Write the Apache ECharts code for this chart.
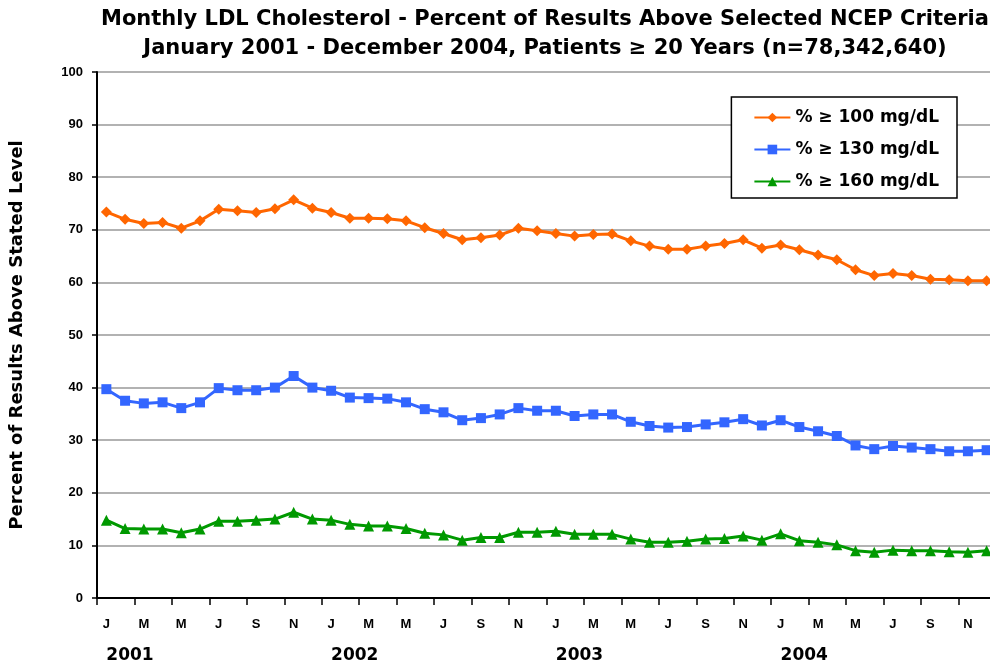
<!DOCTYPE html>
<html>
<head>
<meta charset="utf-8">
<script src="https://cdn.jsdelivr.net/npm/echarts@6/dist/echarts.min.js"></script>
<style>
  html, body { margin: 0; padding: 0; background: #fff; }
  #main { width: 990px; height: 669px; }
</style>
</head>
<body>
<div id="main"></div>
<script>
// NOTE - Data

const years = ['2001', '2002', '2003', '2004'];
const monthLetters = ['J', 'F', 'M', 'A', 'M', 'J', 'J', 'A', 'S', 'O', 'N', 'D'];

// % of results >= 100 mg/dL
const over100 = [
  73.4, 72.0, 71.2, 71.4, 70.3, 71.7, 73.9, 73.6, 73.3, 74.0, 75.7, 74.1,
  73.3, 72.2, 72.2, 72.1, 71.7, 70.4, 69.3, 68.1, 68.5, 69.0, 70.3, 69.8,
  69.3, 68.8, 69.1, 69.2, 67.9, 66.9, 66.3, 66.3, 66.9, 67.4, 68.1, 66.5,
  67.1, 66.2, 65.2, 64.3, 62.4, 61.3, 61.7, 61.3, 60.6, 60.5, 60.3, 60.3
];

// % of results >= 130 mg/dL
const over130 = [
  39.7, 37.5, 37.0, 37.2, 36.1, 37.2, 39.9, 39.5, 39.5, 40.0, 42.2, 40.0,
  39.4, 38.1, 38.0, 37.9, 37.2, 35.9, 35.3, 33.8, 34.2, 34.9, 36.1, 35.6,
  35.6, 34.6, 34.9, 34.9, 33.5, 32.7, 32.4, 32.5, 33.0, 33.4, 34.0, 32.8,
  33.8, 32.5, 31.7, 30.8, 29.0, 28.3, 28.9, 28.6, 28.3, 27.9, 27.9, 28.1
];

// % of results >= 160 mg/dL
const over160 = [
  14.8, 13.2, 13.1, 13.1, 12.4, 13.1, 14.6, 14.6, 14.8, 15.0, 16.3, 15.0,
  14.8, 14.0, 13.7, 13.7, 13.2, 12.3, 12.0, 11.0, 11.5, 11.5, 12.5, 12.5,
  12.7, 12.1, 12.1, 12.1, 11.2, 10.6, 10.6, 10.8, 11.2, 11.3, 11.8, 11.0,
  12.2, 10.9, 10.6, 10.1, 9.0, 8.7, 9.1, 9.0, 9.0, 8.8, 8.7, 9.0
];

const seriesNames = ['% \u2265 100 mg/dL', '% \u2265 130 mg/dL', '% \u2265 160 mg/dL'];

// one category per month, Jan 2001 .. Dec 2004
const months = years.flatMap(y => monthLetters.map((m, i) => y + '-' + (i + 1)));

// NOTE - Chart

var myChart = echarts.init(document.getElementById('main'), null, { renderer: 'canvas' });

const bold = { fontWeight: 'bold', color: '#000' };

var option = {
  animation: false,
  backgroundColor: '#fff',
  title: {
    text: 'Monthly LDL Cholesterol - Percent of Results Above Selected NCEP Criteria\n' +
          'January 2001 - December 2004, Patients \u2265 20 Years (n=78,342,640)',
    left: 540,
    top: 0,
    textAlign: 'center',
    textStyle: {
      fontFamily: 'DejaVu Sans',
      fontWeight: 'bold',
      fontSize: 21,
      lineHeight: 29,
      color: '#000'
    }
  },
  legend: {
    orient: 'vertical',
    right: 33,
    top: 97,
    padding: [12, 18, 8, 22],
    itemGap: 15,
    itemWidth: 36,
    itemHeight: 12,
    backgroundColor: '#fff',
    borderColor: '#000',
    borderWidth: 1.5,
    borderRadius: 0,
    textStyle: Object.assign({ fontFamily: 'DejaVu Sans', fontSize: 17 }, bold),
    data: seriesNames
  },
  grid: {
    left: 97,
    right: -6,
    top: 72,
    bottom: 71,
    containLabel: false,
    outerBoundsMode: 'none'
  },
  xAxis: [
    {
      type: 'category',
      data: months,
      boundaryGap: true,
      axisLine: { lineStyle: { color: '#000', width: 2 } },
      axisTick: { show: true, interval: 1, length: 7, lineStyle: { color: '#000', width: 1.5 } },
      axisLabel: Object.assign({
        interval: 1,
        margin: 20,
        fontFamily: 'Liberation Sans',
        fontSize: 13,
        formatter: (v, idx) => monthLetters[idx % 12]
      }, bold),
      splitLine: { show: false }
    },
    {
      type: 'category',
      data: months,
      position: 'bottom',
      boundaryGap: true,
      axisLine: { show: false },
      axisTick: { show: false },
      axisLabel: Object.assign({
        interval: 0,
        margin: 49,
        align: 'left',
        fontFamily: 'DejaVu Sans',
        fontSize: 17,
        formatter: (v, idx) => (idx % 12 === 0 ? years[idx / 12] : '')
      }, bold),
      splitLine: { show: false }
    }
  ],
  yAxis: {
    type: 'value',
    min: 0,
    max: 100,
    interval: 10,
    name: 'Percent of Results Above Stated Level',
    nameLocation: 'middle',
    nameGap: 71,
    nameTextStyle: Object.assign({ fontFamily: 'DejaVu Sans', fontSize: 18 }, bold),
    axisLine: { show: true, lineStyle: { color: '#000', width: 2 } },
    axisTick: { show: true, length: 5, lineStyle: { color: '#000', width: 1.5 } },
    axisLabel: Object.assign({ margin: 14, fontFamily: 'Liberation Sans', fontSize: 13 }, bold),
    splitLine: { show: true, lineStyle: { color: '#999', width: 1.5 } }
  },
  series: [
    {
      name: seriesNames[0],
      type: 'line',
      data: over100,
      symbol: 'diamond',
      symbolSize: 11,
      color: '#ff6600',
      lineStyle: { width: 3 }
    },
    {
      name: seriesNames[1],
      type: 'line',
      data: over130,
      symbol: 'rect',
      symbolSize: 10,
      color: '#3366ff',
      lineStyle: { width: 3 }
    },
    {
      name: seriesNames[2],
      type: 'line',
      data: over160,
      symbol: 'triangle',
      symbolSize: 11,
      color: '#009900',
      lineStyle: { width: 3 }
    }
  ]
};

myChart.setOption(option);
</script>
</body>
</html>
